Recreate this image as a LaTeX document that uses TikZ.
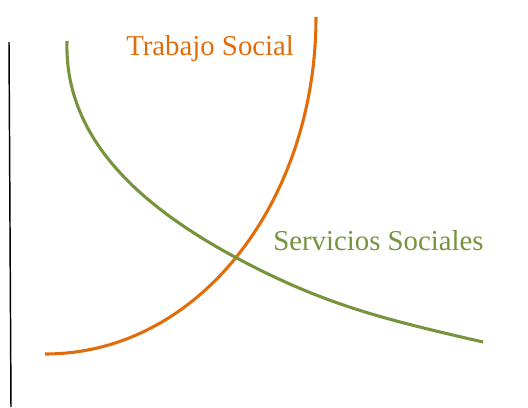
\documentclass[tikz,border=0pt]{standalone}
\usepackage{fontspec}
\setmainfont{Liberation Serif}
\definecolor{tsorange}{HTML}{E36C0A}
\definecolor{ssgreen}{HTML}{77933C}
\tikzset{
  lbl/.style={anchor=base west, inner sep=0pt, font=\fontsize{21.6}{26}\selectfont},
  curve/.style={line width=2.3pt},
  axisline/.style={line width=1.1pt, black}
}
\begin{document}
\begin{tikzpicture}[x=0.75pt, y=-0.75pt]
\useasboundingbox (0,0) rectangle (528,407);
% axis
\coordinate (axtop) at (9,42);
\coordinate (axbot) at (11,407);
\draw[axisline] (axtop) -- (axbot);
% Trabajo Social curve
\coordinate (o1) at (45,354);
\coordinate (o2) at (316,17);
\draw[curve, tsorange] (o1) .. controls (200,354) and (316,200) .. (o2);
% Servicios Sociales curve
\coordinate (g1) at (67,41);
\coordinate (gx) at (233,256);
\coordinate (g2) at (483,342);
\draw[curve, ssgreen] (g1) .. controls (64,140) and (143,207) .. (gx)
  .. controls (323,304.6) and (383,319) .. (g2);
% labels
\node[lbl, text=tsorange] (ts) at (126,55) {Trabajo Social};
\node[lbl, text=ssgreen] (ss) at (273,250) {Servicios Sociales};
\end{tikzpicture}
\end{document}
